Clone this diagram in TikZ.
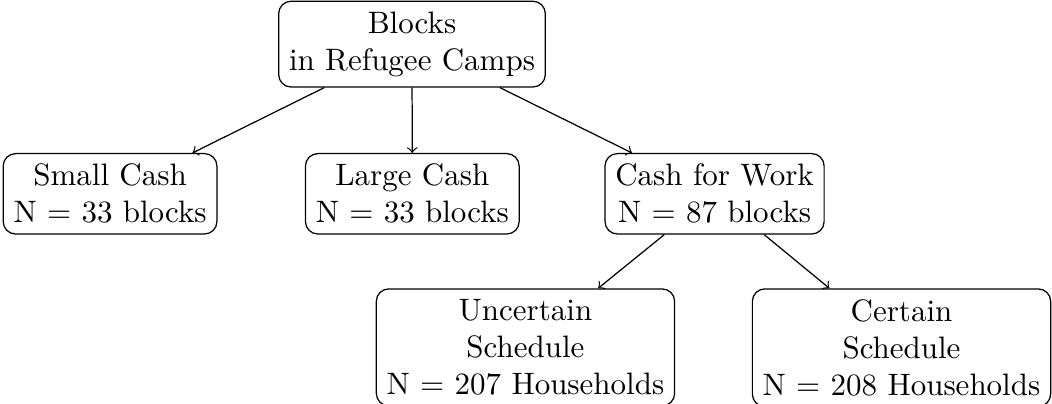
\documentclass[tikz,border=0pt]{standalone}
\begin{document}
\begin{tikzpicture}[x=1pt,y=1pt,
  box/.style={draw, rounded corners, align=center, anchor=north},
  link/.style={->}]
\useasboundingbox (0,0) rectangle (339.35,-130.3);
\node[box] (top) at (132.9,-0.2) {Blocks\\in Refugee Camps};
\node[box] (small) at (35.5,-49.35) {Small Cash\\N = 33 blocks};
\node[box] (large) at (133.0,-49.35) {Large Cash\\N = 33 blocks};
\node[box] (work) at (230.5,-49.35) {Cash for Work\\N = 87 blocks};
\node[box] (unc) at (169.5,-93.0) {Uncertain\\Schedule\\N = 207 Households};
\node[box] (cer) at (290.8,-93.0) {Certain\\Schedule\\N = 208 Households};
\draw[link] (top) -- (small);
\draw[link] (top) -- (large);
\draw[link] (top) -- (work);
\draw[link] (work) -- (unc);
\draw[link] (work) -- (cer);
\end{tikzpicture}
\end{document}
